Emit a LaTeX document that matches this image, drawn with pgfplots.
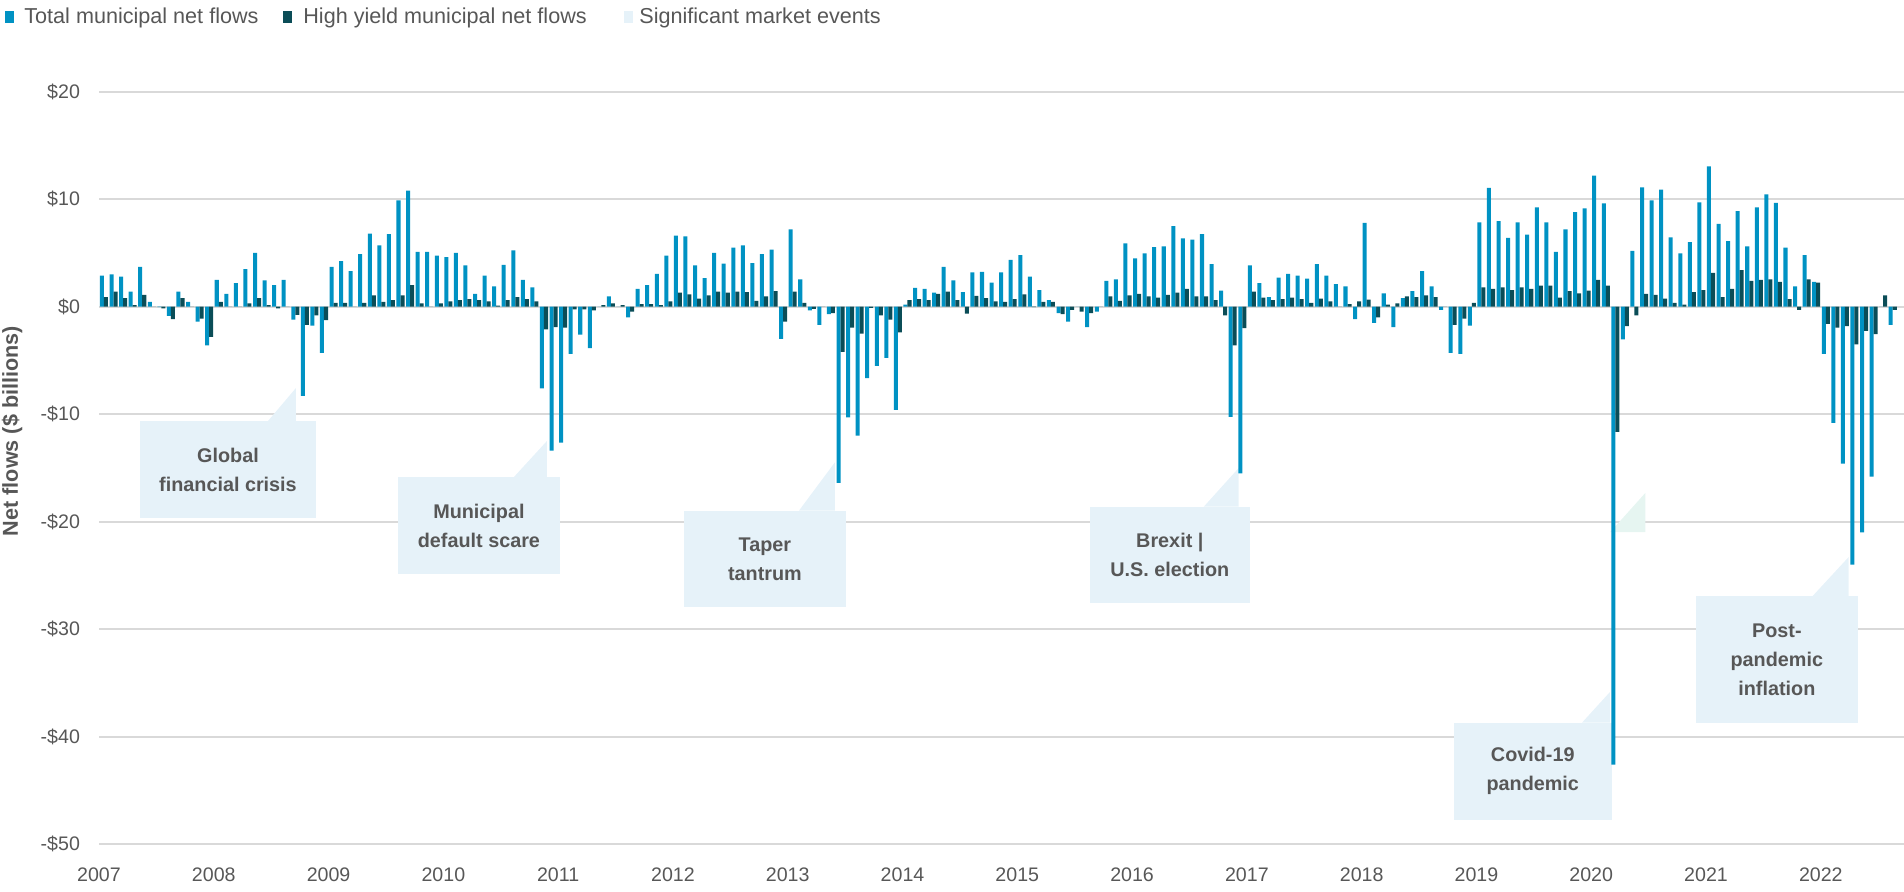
\documentclass[border=0pt]{standalone}
\usepackage{fontspec}
\setmainfont{Liberation Sans}
\usepackage{pgfplots}
\pgfplotsset{compat=1.18}
\usepackage{pgfplotstable}

\definecolor{totc}{HTML}{0092C3}
\definecolor{hyc}{HTML}{0B4D57}
\definecolor{evtc}{HTML}{E6F2F9}
\definecolor{ghostc}{HTML}{E6F5F1}
\definecolor{txtc}{HTML}{575757}
\definecolor{gridc}{HTML}{D9D9D9}

% month index (0 = Jan 2007), total muni flows, high yield muni flows ($bn)
\pgfplotstableread{
m t h
0 2.9 0.9
1 3.0 1.4
2 2.8 0.8
3 1.4 0.15
4 3.7 1.1
5 0.45 0.0
6 -0.05 -0.15
7 -0.85 -1.15
8 1.4 0.8
9 0.45 0.0
10 -1.4 -1.1
11 -3.6 -2.8
12 2.5 0.45
13 1.2 0.0
14 2.2 0.0
15 3.5 0.3
16 5.0 0.8
17 2.45 0.15
18 2.0 -0.15
19 2.5 0.0
20 -1.2 -0.75
21 -8.3 -1.7
22 -1.75 -0.8
23 -4.3 -1.25
24 3.7 0.35
25 4.25 0.35
26 3.3 0.0
27 4.9 0.35
28 6.8 1.05
29 5.7 0.45
30 6.75 0.6
31 9.9 1.05
32 10.8 2.0
33 5.1 0.3
34 5.1 0.0
35 4.75 0.3
36 4.6 0.5
37 5.0 0.6
38 3.85 0.7
39 1.2 0.6
40 2.9 0.5
41 1.9 0.1
42 3.9 0.6
43 5.25 0.9
44 2.5 0.7
45 1.8 0.5
46 -7.6 -2.1
47 -13.4 -1.9
48 -12.65 -1.95
49 -4.4 -0.25
50 -2.6 -0.25
51 -3.85 -0.35
52 0.0 0.15
53 0.95 0.3
54 0.0 0.15
55 -1.0 -0.45
56 1.65 0.25
57 2.0 0.25
58 3.05 0.15
59 4.75 0.5
60 6.6 1.3
61 6.55 1.15
62 3.85 0.75
63 2.65 1.05
64 5.0 1.4
65 4.0 1.3
66 5.5 1.4
67 5.7 1.35
68 4.05 0.55
69 4.9 0.95
70 5.3 1.45
71 -3.0 -1.4
72 7.2 1.4
73 2.55 0.35
74 -0.35 -0.2
75 -1.7 0.0
76 -0.7 -0.6
77 -16.4 -4.2
78 -10.3 -1.95
79 -12.0 -2.5
80 -6.65 -0.1
81 -5.5 -0.8
82 -4.75 -1.2
83 -9.6 -2.4
84 0.2 0.6
85 1.75 0.7
86 1.65 0.6
87 1.3 1.2
88 3.7 1.4
89 2.45 0.6
90 1.35 -0.65
91 3.2 1.0
92 3.25 0.8
93 2.25 0.5
94 3.2 0.45
95 4.35 0.7
96 4.8 1.15
97 2.8 -0.05
98 1.55 0.45
99 0.6 0.45
100 -0.6 -0.7
101 -1.4 -0.3
102 0.0 -0.45
103 -1.9 -0.6
104 -0.45 0.0
105 2.4 0.95
106 2.55 0.55
107 5.9 1.05
108 4.5 1.2
109 4.95 0.95
110 5.55 0.85
111 5.6 1.1
112 7.5 1.3
113 6.35 1.65
114 6.25 0.95
115 6.75 0.95
116 3.95 0.6
117 1.5 -0.8
118 -10.25 -3.6
119 -15.5 -2.0
120 3.85 1.4
121 2.2 0.85
122 0.9 0.6
123 2.7 0.7
124 3.05 0.85
125 2.9 0.7
126 2.6 0.35
127 3.95 0.75
128 2.9 0.5
129 2.1 0.0
130 1.9 0.25
131 -1.15 0.5
132 7.8 0.65
133 -1.5 -1.0
134 1.25 0.2
135 -1.9 0.3
136 0.8 0.95
137 1.45 0.9
138 3.3 1.05
139 1.9 0.9
140 -0.3 0.0
141 -4.3 -1.7
142 -4.4 -1.1
143 -1.75 0.35
144 7.85 1.8
145 11.05 1.65
146 7.95 1.8
147 6.4 1.55
148 7.85 1.8
149 6.7 1.65
150 9.25 1.95
151 7.85 1.95
152 5.1 0.85
153 7.2 1.45
154 8.8 1.25
155 9.15 1.5
156 12.2 2.5
157 9.6 1.95
158 -42.6 -11.65
159 -3.05 -1.8
160 5.2 -0.8
161 11.1 1.2
162 9.9 1.1
163 10.9 0.75
164 6.45 0.35
165 4.95 0.2
166 6.0 1.35
167 9.7 1.55
168 13.05 3.15
169 7.7 0.9
170 6.1 1.65
171 8.9 3.4
172 5.6 2.4
173 9.25 2.5
174 10.45 2.55
175 9.65 2.3
176 5.5 0.7
177 1.9 -0.3
178 4.8 2.55
179 2.3 2.25
180 -4.4 -1.6
181 -10.8 -1.95
182 -14.6 -1.8
183 -24.0 -3.5
184 -21.0 -2.25
185 -15.8 -2.55
186 0.0 1.05
187 -1.7 -0.3
}\flows

\newcommand{\annfont}{\bfseries\fontsize{9.9}{14.5}\selectfont}
\newcommand{\tickfont}{\fontsize{9.8}{11}\selectfont}
\newcommand{\legfont}{\fontsize{10.8}{12}\selectfont}
% box left, box right, box top, box bottom, pointer base left, pointer x, pointer tip y, text
\newcommand{\callout}[8]{%
  \fill[evtc] (axis cs:#1,#3) rectangle (axis cs:#2,#4);
  \fill[evtc] (axis cs:#5,#3) -- (axis cs:#6,#3) -- (axis cs:#6,#7) -- cycle;
  \path (axis cs:#1,#3) -- (axis cs:#2,#4)
    node[midway, font=\annfont, text=txtc, align=center] {#8};
}

\begin{document}
\begin{tikzpicture}
\path[use as bounding box] (-49.5pt,-23.9pt) rectangle (902.5pt,422.1pt);
\begin{axis}[
  scale only axis,
  width=902.5pt, height=376.25pt,
  xmin=0, xmax=188.7,
  ymin=-50, ymax=20,
  axis line style={draw=none},
  major tick style={draw=none},
  ymajorgrids,
  major grid style={draw=gridc, line width=1pt},
  ytick={-50,-40,-30,-20,-10,0,10,20},
  yticklabels={-\$50,-\$40,-\$30,-\$20,-\$10,\$0,\$10,\$20},
  xtick={0,12,...,180},
  xticklabels={2007,2008,2009,2010,2011,2012,2013,2014,2015,2016,2017,2018,2019,2020,2021,2022},
  yticklabel style={font=\tickfont, text=txtc, xshift=-6pt},
  xticklabel style={font=\tickfont, text=txtc, yshift=-8.5pt},
]
\callout{4.29}{22.68}{-10.63}{-19.66}{17.67}{20.59}{-7.56}{Global\\financial crisis}
\callout{31.25}{48.19}{-15.84}{-24.87}{43.38}{46.83}{-12.49}{Municipal\\default scare}
\callout{61.15}{78.08}{-18.98}{-27.93}{73.17}{76.93}{-14.48}{Taper\\tantrum}
\callout{103.58}{120.31}{-18.6}{-27.56}{115.5}{119.15}{-15.0}{Brexit |\\U.S. election}
\callout{141.63}{158.15}{-38.7}{-47.72}{155.03}{157.96}{-35.84}{Covid-19\\pandemic}
\callout{166.94}{183.87}{-26.91}{-38.72}{179.15}{182.92}{-23.28}{Post-\\pandemic\\inflation}
\fill[ghostc] (axis cs:157.99,-20.96) -- (axis cs:161.65,-20.96) -- (axis cs:161.65,-17.33) -- cycle;

\addplot[ybar, bar width=0.42, bar shift=0pt, fill=totc, draw=none]
  table[x expr=\thisrow{m}+0.31, y=t] {\flows};
\addplot[ybar, bar width=0.42, bar shift=0pt, fill=hyc, draw=none]
  table[x expr=\thisrow{m}+0.73, y=h] {\flows};
\end{axis}

% legend
\fill[totc] ([shift={(-47pt,34.1pt)}]current axis.north west) rectangle ++(4.5pt,6pt);
\node[anchor=west, inner sep=0pt, font=\legfont, text=txtc]
  at ([shift={(-37.5pt,37.1pt)}]current axis.north west) {Total municipal net flows};
\fill[hyc] ([shift={(92pt,34.1pt)}]current axis.north west) rectangle ++(4.5pt,6pt);
\node[anchor=west, inner sep=0pt, font=\legfont, text=txtc]
  at ([shift={(102pt,37.1pt)}]current axis.north west) {High yield municipal net flows};
\fill[evtc] ([shift={(262.5pt,34.1pt)}]current axis.north west) rectangle ++(4.5pt,6pt);
\node[anchor=west, inner sep=0pt, font=\legfont, text=txtc]
  at ([shift={(270pt,37.1pt)}]current axis.north west) {Significant market events};

% y axis title
\node[rotate=90, font=\bfseries\fontsize{10.8}{12}\selectfont, text=txtc]
  at ([shift={(-43.5pt,18.4pt)}]current axis.west) {Net flows (\$ billions)};
\end{tikzpicture}
\end{document}
